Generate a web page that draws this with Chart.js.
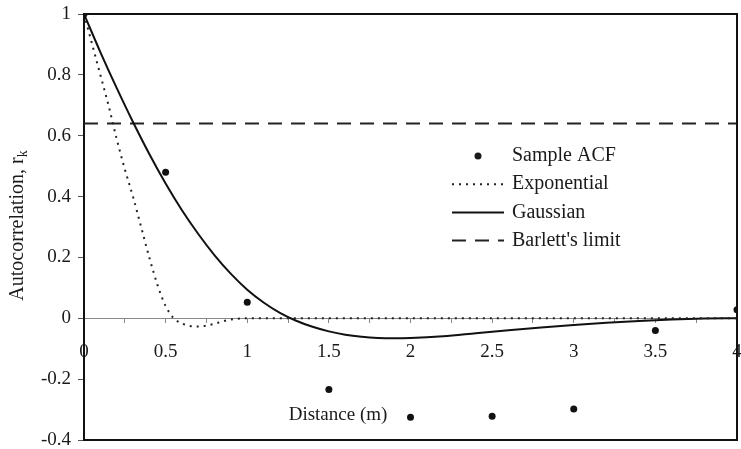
<!DOCTYPE html>
<html>
<head>
<meta charset="utf-8">
<script src="https://cdn.jsdelivr.net/npm/chart.js@4/dist/chart.umd.min.js"></script>
<style>
  html, body { margin: 0; padding: 0; background: #fff; }
  #wrap { width: 741px; height: 449px; }
</style>
</head>
<body>
<div id="wrap"><canvas id="acf_chart"></canvas></div>
<script>
// sample autocorrelation at each lag (m)
var lagX = [0, 0.5, 1, 1.5, 2, 2.5, 3, 3.5, 4];
var sampleAcf = [1, 0.48, 0.053, -0.234, -0.325, -0.322, -0.298, -0.04, 0.028];

// fitted exponential model
var expX = [0, 0.05, 0.1, 0.15, 0.2, 0.25, 0.3, 0.35, 0.4, 0.45, 0.5, 0.55, 0.6, 0.65, 0.7, 0.75, 0.8, 0.85, 0.9, 1, 1.5, 2, 2.5, 3, 3.5, 4];
var expY = [1, 0.9, 0.8, 0.7, 0.59, 0.49, 0.4, 0.3, 0.2, 0.11, 0.04, 0.0, -0.017, -0.025, -0.027, -0.024, -0.018, -0.01, -0.004, 0, 0, 0, 0, 0, 0, 0];

// fitted gaussian model (solid curve)
var gaussX = [0, 0.1, 0.2, 0.3, 0.4, 0.5, 0.6, 0.7, 0.8, 0.9, 1, 1.1, 1.2, 1.3, 1.4, 1.5, 1.6, 1.7, 1.8, 1.9, 2, 2.2, 2.4, 2.6, 2.8, 3, 3.2, 3.4, 3.6, 3.8, 4];
var gaussY = [1, 0.875, 0.757, 0.645, 0.54, 0.443, 0.355, 0.277, 0.207, 0.146, 0.094, 0.052, 0.018, -0.008, -0.028, -0.043, -0.054, -0.061, -0.065, -0.066, -0.065, -0.059, -0.049, -0.039, -0.03, -0.022, -0.015, -0.009, -0.004, -0.001, 0];

var barlettLimit = 0.64;
var xRange = [0, 4];
var yRange = [-0.4, 1];

var labels = ['Sample ACF', 'Exponential', 'Gaussian', "Barlett's limit"];
var serif = "'Liberation Serif', 'DejaVu Serif', serif";

function pairs(xs, ys)
{
	return xs.map(function (x, i) { return {x: x, y: ys[i]}; });
}

// frame, axis title texts and the in-plot legend
var decorations = {
	id: 'decorations',
	afterDraw: function (chart)
	{
		var ctx = chart.ctx;
		var a = chart.chartArea;
		ctx.save();

		// box round the plot (top, right, bottom)
		ctx.strokeStyle = '#111';
		ctx.lineWidth = 2;
		ctx.beginPath();
		ctx.moveTo(a.left, a.top);
		ctx.lineTo(a.right, a.top);
		ctx.lineTo(a.right, a.bottom);
		ctx.lineTo(a.left, a.bottom);
		ctx.stroke();

		ctx.fillStyle = '#1a1a1a';
		ctx.font = '19px ' + serif;
		ctx.textBaseline = 'middle';

		// x title sits inside the plot
		ctx.textAlign = 'center';
		ctx.fillText('Distance (m)', 338, 415);

		// y title with subscript k
		ctx.save();
		ctx.translate(18, 225);
		ctx.rotate(-Math.PI / 2);
		ctx.font = '20px ' + serif;
		var main = 'Autocorrelation, r';
		var w = ctx.measureText(main).width;
		ctx.textAlign = 'left';
		ctx.fillText(main, -(w + 8) / 2, 0);
		ctx.font = '14px ' + serif;
		ctx.fillText('k', -(w + 8) / 2 + w, 5);
		ctx.restore();

		// legend
		var lx = 452, lw = 52, tx = 512, ly = 156, step = 28.2;
		ctx.font = '20px ' + serif;
		ctx.textAlign = 'left';
		chart.data.datasets.forEach(function (ds, i)
		{
			var y = ly + i * step;
			if (ds.showLine === false)
			{
				ctx.beginPath();
				ctx.arc(lx + lw / 2, y, 3.5, 0, Math.PI * 2);
				ctx.fill();
			}
			else
			{
				ctx.beginPath();
				ctx.setLineDash(ds.borderDash || []);
				ctx.lineWidth = ds.borderWidth;
				ctx.strokeStyle = ds.borderColor;
				ctx.moveTo(lx, y);
				ctx.lineTo(lx + lw, y);
				ctx.stroke();
				ctx.setLineDash([]);
			}
			ctx.fillText(ds.label, tx, y);
		});
		ctx.restore();
	}
};

new Chart(document.getElementById('acf_chart').getContext('2d'), {
	type: 'scatter',
	data: {
		datasets: [{
			label: labels[0],
			data: pairs(lagX, sampleAcf),
			showLine: false,
			pointRadius: 3.5,
			pointBackgroundColor: '#111',
			pointBorderWidth: 0
		}, {
			label: labels[1],
			data: pairs(expX, expY),
			showLine: true,
			borderColor: '#222',
			borderWidth: 2,
			borderDash: [2, 5],
			pointRadius: 0,
			cubicInterpolationMode: 'monotone'
		}, {
			label: labels[2],
			data: pairs(gaussX, gaussY),
			showLine: true,
			borderColor: '#111',
			borderWidth: 2,
			pointRadius: 0,
			cubicInterpolationMode: 'monotone'
		}, {
			label: labels[3],
			data: pairs(xRange, [barlettLimit, barlettLimit]),
			showLine: true,
			borderColor: '#222',
			borderWidth: 2,
			borderDash: [14, 9],
			pointRadius: 0
		}]
	},
	options: {
		responsive: true,
		maintainAspectRatio: false,
		animation: false,
		layout: { padding: { top: 14, right: 3, bottom: 9, left: 0 } },
		plugins: { legend: { display: false }, tooltip: { enabled: false } },
		scales: {
			x: {
				type: 'linear',
				position: { y: 0 },
				min: xRange[0],
				max: xRange[1],
				afterFit: function (scale) { scale.paddingLeft = 0; scale.paddingRight = 0; },
				grid: { drawOnChartArea: false, drawTicks: true, tickLength: 4, color: '#888' },
				border: { display: true, color: '#888', width: 1 },
				ticks: {
					stepSize: 0.25,
					autoSkip: false,
					maxRotation: 0,
					padding: 18,
					color: '#1a1a1a',
					font: { family: serif, size: 19 },
					callback: function (v) { return (Math.round(v * 100) % 50 === 0) ? String(v) : ''; }
				}
			},
			y: {
				min: yRange[0],
				max: yRange[1],
				afterFit: function (scale) { scale.width = 84; scale.paddingTop = 0; scale.paddingBottom = 0; },
				grid: { drawOnChartArea: false, drawTicks: true, tickLength: 6, color: '#555' },
				border: { display: true, color: '#111', width: 2 },
				ticks: {
					stepSize: 0.2,
					padding: 7,
					color: '#1a1a1a',
					font: { family: serif, size: 19 },
					callback: function (v) { var r = Math.round(v * 10) / 10; return r === 0 ? '0' : String(r); }
				}
			}
		}
	},
	plugins: [decorations]
});
</script>
</body>
</html>
